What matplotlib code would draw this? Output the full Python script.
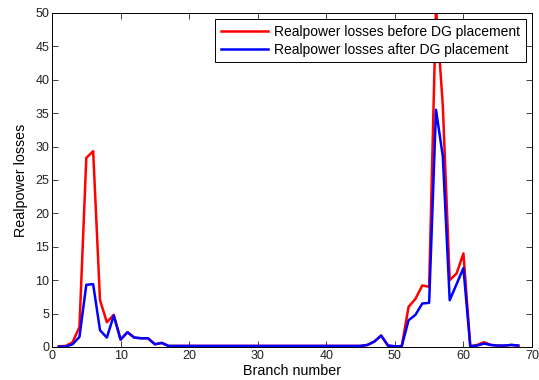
import numpy as np
import matplotlib
matplotlib.use("Agg")
import matplotlib.pyplot as plt

# ===== data =====
# branch 1..68, real power losses before / after DG placement
before = [0.1, 0.15, 0.7, 3.0, 28.3, 29.3, 7.0, 3.7, 4.8, 1.1,
          2.2, 1.4, 1.3, 1.3, 0.4, 0.6, 0.15, 0.15, 0.15, 0.15,
          0.15, 0.15, 0.15, 0.15, 0.15, 0.15, 0.15, 0.15, 0.15, 0.15,
          0.15, 0.15, 0.15, 0.15, 0.15, 0.15, 0.15, 0.15, 0.15, 0.15,
          0.15, 0.15, 0.15, 0.15, 0.15, 0.3, 0.8, 1.7, 0.2, 0.1,
          0.1, 6.0, 7.2, 9.2, 9.0, 51.0, 36.0, 10.0, 11.0, 14.0,
          0.1, 0.3, 0.7, 0.3, 0.2, 0.2, 0.3, 0.2]
after = [0.05, 0.05, 0.4, 1.5, 9.3, 9.4, 2.5, 1.4, 4.7, 1.1,
         2.2, 1.4, 1.3, 1.3, 0.4, 0.6, 0.15, 0.15, 0.15, 0.15,
         0.15, 0.15, 0.15, 0.15, 0.15, 0.15, 0.15, 0.15, 0.15, 0.15,
         0.15, 0.15, 0.15, 0.15, 0.15, 0.15, 0.15, 0.15, 0.15, 0.15,
         0.15, 0.15, 0.15, 0.15, 0.15, 0.3, 0.8, 1.7, 0.2, 0.1,
         0.1, 4.0, 4.8, 6.5, 6.6, 35.5, 28.5, 7.0, 9.4, 11.8,
         0.1, 0.2, 0.5, 0.3, 0.2, 0.2, 0.3, 0.2]
branch = np.arange(1, len(before) + 1)

x_ticks = [0, 10, 20, 30, 40, 50, 60, 70]
y_ticks = [0, 5, 10, 15, 20, 25, 30, 35, 40, 45, 50]

plt.rcParams["font.family"] = ["Liberation Sans", "DejaVu Sans"]

fig = plt.figure(figsize=(5.39, 3.80), dpi=100)
ax = fig.add_axes([0.0965, 0.087, 0.8905, 0.879])

ax.plot(branch, before, color="#ff0000", lw=1.8, label="Realpower losses before DG placement")
ax.plot(branch, after, color="#0000ff", lw=1.8, label="Realpower losses after DG placement")

ax.set_xlim(0, 70)
ax.set_ylim(0, 50)
ax.set_xticks(x_ticks)
ax.set_yticks(y_ticks)
ax.tick_params(direction="in", length=4, width=0.6, top=True, right=True,
               labelsize=9, colors="#222222", pad=2)
for sp in ax.spines.values():
    sp.set_linewidth(0.7)

ax.set_xlabel("Branch number", fontsize=10.3, labelpad=2)
ax.set_ylabel("Realpower losses", fontsize=10.3, labelpad=5)

leg = ax.legend(loc="upper right", fontsize=10, fancybox=False, framealpha=1,
                edgecolor="black", borderaxespad=0.45, handlelength=3.4,
                handletextpad=0.45, borderpad=0.4, labelspacing=0.3)
leg.get_frame().set_linewidth(0.7)

fig.savefig("out.png", dpi=100)
